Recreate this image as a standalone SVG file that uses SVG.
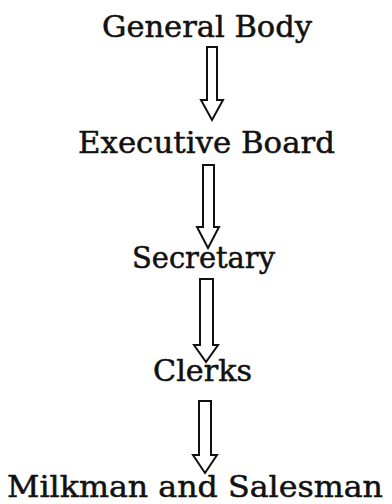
<svg xmlns="http://www.w3.org/2000/svg" width="392" height="504" viewBox="0 0 392 504">
  <style>
    .lbl { font-family: "DejaVu Serif", "Liberation Serif", serif; font-size: 29px; fill: #111; stroke: #111; stroke-width: 0.5; }
    .arrow { fill: #fff; stroke: #111; stroke-width: 2; stroke-linejoin: miter; }
  </style>
  <rect width="392" height="504" fill="#fff"/>
  <g id="connectors">
    <polygon class="arrow" points="207,47 217,47 217,100 223,100 212,120 201,100 207,100"/>
    <polygon class="arrow" points="203,165 214,165 214,227 219,227 208,248 197,227 203,227"/>
    <polygon class="arrow" points="200,279 213,279 213,345 218,345 206,362 194,345 200,345"/>
    <polygon class="arrow" points="199,401 211,401 211,455 217,455 205,473 193,455 199,455"/>
  </g>
  <g id="general-body">
    <text class="lbl" x="102" y="37" textLength="210" lengthAdjust="spacingAndGlyphs">General Body</text>
  </g>
  <g id="executive-board">
    <text class="lbl" x="78" y="153" textLength="257" lengthAdjust="spacingAndGlyphs">Executive Board</text>
  </g>
  <g id="secretary">
    <text class="lbl" x="132" y="268" textLength="143" lengthAdjust="spacingAndGlyphs">Secretary</text>
  </g>
  <g id="clerks">
    <text class="lbl" x="153" y="381" textLength="99" lengthAdjust="spacingAndGlyphs">Clerks</text>
  </g>
  <g id="milkman-and-salesman">
    <text class="lbl" x="7" y="497" textLength="376" lengthAdjust="spacingAndGlyphs">Milkman and Salesman</text>
  </g>
</svg>
